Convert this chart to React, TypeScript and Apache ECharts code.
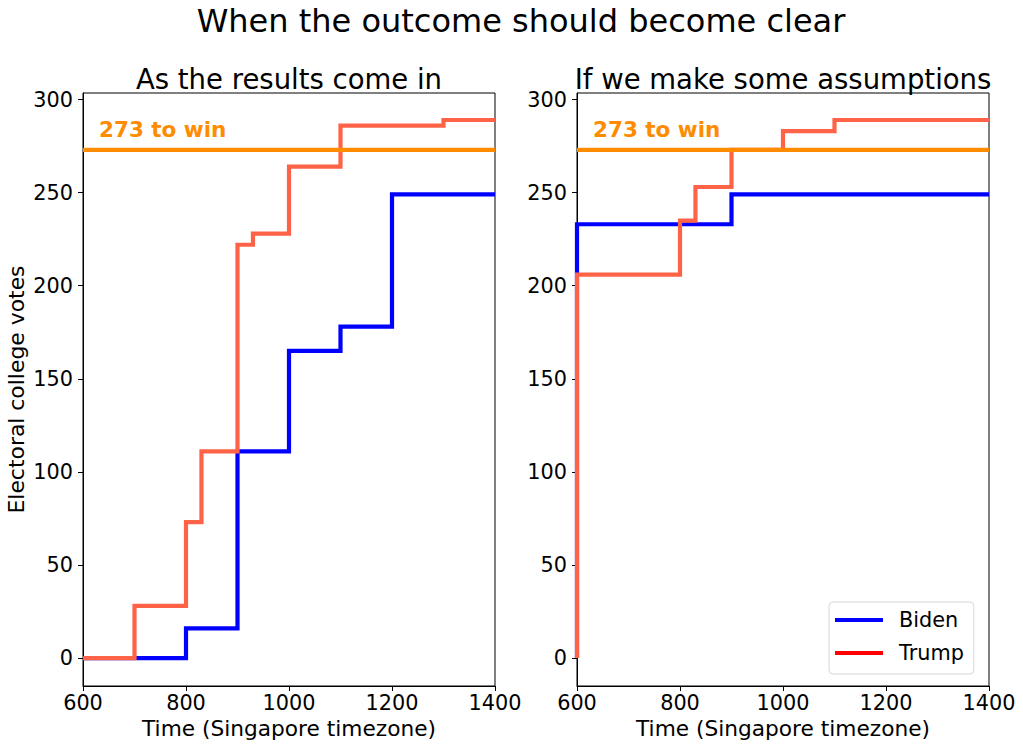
import React, { useEffect, useRef } from 'react';
import * as echarts from 'echarts';

const X_MIN = 600;
const X_MAX = 1400;
const X_STEP = 200;
const Y_TICKS = [0, 50, 100, 150, 200, 250, 300];
const WIN_VOTES = 273;
const WIN_LABEL = '273 to win';
const WIN_LABEL_POS = [631, 284];

const leftTrumpTimes = [600, 700, 800, 830, 900, 930, 1000, 1100, 1300, 1400];
const leftTrumpVotes = [0, 28, 73, 111, 222, 228, 264, 286, 289, 289];
const leftBidenTimes = [600, 800, 900, 1000, 1100, 1200, 1400];
const leftBidenVotes = [0, 16, 111, 165, 178, 249, 249];

const rightBidenTimes = [600, 600, 900, 1400];
const rightBidenVotes = [0, 233, 249, 249];
const rightTrumpTimes = [600, 600, 800, 830, 900, 1000, 1100, 1400];
const rightTrumpVotes = [0, 206, 235, 253, 273, 283, 289, 289];

const SUPTITLE = 'When the outcome should become clear';
const PANEL_TITLES = ['As the results come in', 'If we make some assumptions'];

const FONT = 'DejaVu Sans';
const BIDEN_COLOR = '#0000ff';
const TRUMP_COLOR = '#ff6347';
const TRUMP_LEGEND = '#ff0000';
const WIN_COLOR = '#ff8c00';

const zip = (xs: number[], ys: number[]) => xs.map((x, i) => [x, ys[i]]);

export default function App() {
  const ref = useRef<HTMLDivElement>(null);

  useEffect(() => {
    if (!ref.current) return;
    const chart = echarts.init(ref.current, null, { renderer: 'svg' });

    const grids = [
      { left: 83, top: 93, width: 412, height: 593 },
      { left: 577, top: 93, width: 412, height: 593 },
    ];

    const xAxis = grids.map((_, i) => ({
      type: 'value',
      gridIndex: i,
      min: X_MIN,
      max: X_MAX,
      interval: X_STEP,
      name: 'Time (Singapore timezone)',
      nameLocation: 'middle',
      nameGap: 30,
      nameTextStyle: { fontSize: 21.7, color: '#000', fontFamily: FONT },
      axisLine: { show: true, onZero: false, lineStyle: { color: '#000', width: 1 } },
      axisTick: { show: true, inside: false, length: 5, lineStyle: { color: '#000', width: 1 } },
      axisLabel: {
        fontSize: 20.8, color: '#000', margin: 6, fontFamily: FONT,
        formatter: (v: number) => String(v),
      },
      splitLine: { show: false },
    }));

    const yAxis = grids.map((_, i) => ({
      type: 'value',
      gridIndex: i,
      min: -15,
      max: 303.5,
      name: i === 0 ? 'Electoral college votes' : '',
      nameLocation: 'middle',
      nameGap: 56,
      nameTextStyle: { fontSize: 21.9, color: '#000', fontFamily: FONT },
      axisLine: { show: true, onZero: false, lineStyle: { color: '#000', width: 1 } },
      axisTick: { show: true, inside: false, length: 5, customValues: Y_TICKS, lineStyle: { color: '#000', width: 1 } },
      axisLabel: {
        fontSize: 20.8, color: '#000', margin: 10, fontFamily: FONT, customValues: Y_TICKS,
        formatter: (v: number) => String(v),
      },
      splitLine: { show: false },
    }));

    const panels = [
      { biden: zip(leftBidenTimes, leftBidenVotes), trump: zip(leftTrumpTimes, leftTrumpVotes) },
      { biden: zip(rightBidenTimes, rightBidenVotes), trump: zip(rightTrumpTimes, rightTrumpVotes) },
    ];

    const series: any[] = [];
    panels.forEach((p, i) => {
      series.push({
        type: 'line', name: 'Biden', xAxisIndex: i, yAxisIndex: i, step: 'end',
        data: p.biden, showSymbol: false, symbol: 'none', z: 2,
        lineStyle: { color: BIDEN_COLOR, width: 4.2, join: 'miter' }, itemStyle: { color: BIDEN_COLOR },
      });
      series.push({
        type: 'line', name: 'Trump', xAxisIndex: i, yAxisIndex: i, step: 'end',
        data: p.trump, showSymbol: false, symbol: 'none', z: 3,
        lineStyle: { color: TRUMP_COLOR, width: 4.2, join: 'miter' }, itemStyle: { color: TRUMP_COLOR },
      });
      series.push({
        type: 'line', xAxisIndex: i, yAxisIndex: i,
        data: [[X_MIN, WIN_VOTES], [X_MAX, WIN_VOTES]], showSymbol: false, symbol: 'none', z: 4,
        lineStyle: { color: WIN_COLOR, width: 4.2 }, silent: true,
      });
      series.push({
        type: 'scatter', xAxisIndex: i, yAxisIndex: i, symbolSize: 0, silent: true, z: 5,
        data: [WIN_LABEL_POS],
        itemStyle: { opacity: 1, color: WIN_COLOR },
        label: {
          show: true, position: 'right', distance: 0, formatter: WIN_LABEL, opacity: 1,
          color: WIN_COLOR, fontWeight: 'bold', fontSize: 21.5, fontFamily: FONT,
        },
      });
    });

    const option: any = {
      animation: false,
      backgroundColor: '#fff',
      grid: grids.map((g) => ({ ...g, show: true, borderColor: '#000', borderWidth: 1, backgroundColor: 'transparent', containLabel: false })),
      xAxis,
      yAxis,
      legend: {
        left: 829,
        top: 602,
        orient: 'vertical',
        icon: 'rect',
        itemWidth: 48,
        itemHeight: 4,
        itemGap: 11,
        padding: [7, 10, 10, 6],
        backgroundColor: '#fff',
        borderColor: '#d6d6d6',
        borderWidth: 1,
        borderRadius: 4,
        textStyle: { fontSize: 20.8, color: '#000', fontFamily: FONT, lineHeight: 22, padding: [0, 0, 0, 11] },
        data: [
          { name: 'Biden', itemStyle: { color: BIDEN_COLOR } },
          { name: 'Trump', itemStyle: { color: TRUMP_LEGEND } },
        ],
        selectedMode: false,
      },
      graphic: [
        {
          type: 'text', x: 521, y: 21,
          style: { text: SUPTITLE, fontSize: 32, fontFamily: FONT, fill: '#000', textAlign: 'center', textVerticalAlign: 'middle' },
        },
        {
          type: 'text', x: 289, y: 79,
          style: { text: PANEL_TITLES[0], fontSize: 27.5, fontFamily: FONT, fill: '#000', textAlign: 'center', textVerticalAlign: 'middle' },
        },
        {
          type: 'text', x: 783, y: 79,
          style: { text: PANEL_TITLES[1], fontSize: 27.5, fontFamily: FONT, fill: '#000', textAlign: 'center', textVerticalAlign: 'middle' },
        },
      ],
      series,
    };

    chart.setOption(option);
    return () => chart.dispose();
  }, []);

  return (
    <div
      ref={ref}
      style={{ position: 'fixed', left: 0, top: 0, width: 1023, height: 748, background: '#fff' }}
    />
  );
}
